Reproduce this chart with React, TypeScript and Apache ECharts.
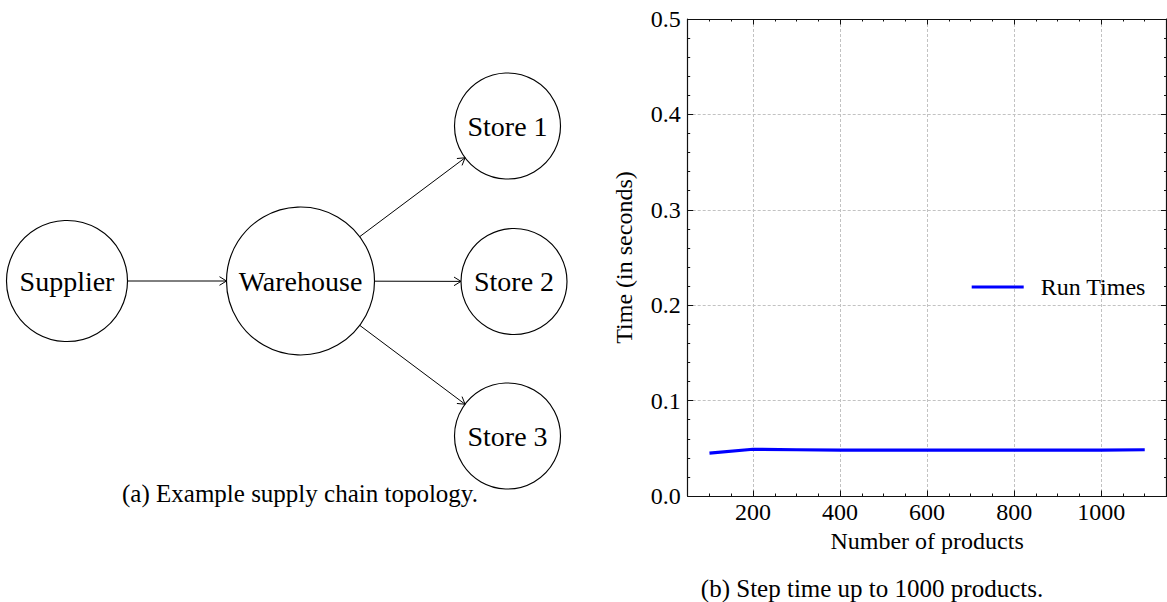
import React, { useEffect, useRef } from "react";
import * as echarts from "echarts";

// ---- chart data ----
const productCounts = [100, 200, 300, 400, 500, 600, 700, 800, 900, 1000, 1100];
const runTimes = [0.045, 0.049, 0.0485, 0.048, 0.048, 0.048, 0.048, 0.048, 0.048, 0.048, 0.0485];
const seriesName = "Run Times";
const xAxisTitle = "Number of products";
const yAxisTitle = "Time (in seconds)";
const captionA = "(a) Example supply chain topology.";
const captionB = "(b) Step time up to 1000 products.";

// ---- diagram content ----
const nodeLabels = ["Supplier", "Warehouse", "Store 1", "Store 2", "Store 3"];
const edgeList: [number, number][] = [
  [0, 1],
  [1, 2],
  [1, 3],
  [1, 4],
];

// ---- diagram layout (positions / sizes) ----
const nodeLayout = [
  { cx: 67, cy: 281, r: 60.5 },
  { cx: 300.5, cy: 281, r: 74 },
  { cx: 507.5, cy: 126, r: 53 },
  { cx: 514, cy: 281.5, r: 53 },
  { cx: 507.5, cy: 436, r: 53 },
];

const FONT = "Liberation Serif";

function textStyle(text: string, size: number) {
  return {
    text,
    fontSize: size,
    fontFamily: FONT,
    fill: "#000",
    align: "center",
    verticalAlign: "middle",
    textAlign: "center",
    textVerticalAlign: "middle",
  };
}

function buildDiagram(): any[] {
  const els: any[] = [];
  nodeLabels.forEach((label, i) => {
    const n = nodeLayout[i];
    els.push({
      type: "circle",
      shape: { cx: n.cx, cy: n.cy, r: n.r },
      style: { fill: "none", stroke: "#000", lineWidth: 1.15 },
    });
    els.push({ type: "text", x: n.cx, y: n.cy, style: textStyle(label, 28) });
  });
  edgeList.forEach(([a, b]) => {
    const p = nodeLayout[a];
    const q = nodeLayout[b];
    const dx = q.cx - p.cx;
    const dy = q.cy - p.cy;
    const len = Math.sqrt(dx * dx + dy * dy);
    const ux = dx / len;
    const uy = dy / len;
    const x1 = p.cx + ux * p.r;
    const y1 = p.cy + uy * p.r;
    const x2 = q.cx - ux * q.r;
    const y2 = q.cy - uy * q.r;
    els.push({
      type: "line",
      shape: { x1, y1, x2, y2 },
      style: { stroke: "#000", lineWidth: 1 },
    });
    const L = 7;
    const W = 4.3;
    const nx = -uy;
    const ny = ux;
    els.push({
      type: "polyline",
      shape: {
        points: [
          [x2 - ux * L + nx * W, y2 - uy * L + ny * W],
          [x2, y2],
          [x2 - ux * L - nx * W, y2 - uy * L - ny * W],
        ],
      },
      style: { stroke: "#000", lineWidth: 1, fill: "none" },
    });
  });
  els.push({ type: "text", x: 300, y: 493, style: textStyle(captionA, 25) });
  els.push({ type: "text", x: 872, y: 588, style: textStyle(captionB, 25) });
  return els;
}

export default function App() {
  const ref = useRef<HTMLDivElement>(null);
  useEffect(() => {
    if (!ref.current) return;
    const chart = echarts.init(ref.current, null, { renderer: "svg" });
    const axisLineStyle = { color: "#111", width: 1.2 };
    const tickStyle = { color: "#111", width: 1 };
    const labelStyle = { color: "#000", fontSize: 24, fontFamily: FONT };
    const gridLine = { color: "#c2c2c2", type: [3, 2], width: 1 };

    const mkX = (pos: string, main: boolean) => ({
      type: "value",
      gridIndex: 0,
      position: pos,
      min: 50,
      max: 1150,
      splitNumber: 5,
      axisLine: { show: true, onZero: false, lineStyle: axisLineStyle },
      axisTick: { show: true, inside: true, length: 5.5, lineStyle: tickStyle },
      minorTick: { show: true, splitNumber: 4, length: 2.5, lineStyle: tickStyle },
      splitLine: main
        ? { show: true, showMinLine: false, showMaxLine: false, lineStyle: gridLine }
        : { show: false },
      minorSplitLine: { show: false },
      axisLabel: main
        ? {
            show: true,
            margin: 4,
            showMinLabel: false,
            showMaxLabel: false,
            formatter: (v: number) => String(Math.round(v)),
            ...labelStyle,
          }
        : { show: false },
      name: main ? xAxisTitle : "",
      nameLocation: "middle",
      nameGap: 32,
      nameTextStyle: labelStyle,
    });
    const mkY = (pos: string, main: boolean) => ({
      type: "value",
      gridIndex: 0,
      position: pos,
      min: 0,
      max: 0.5,
      interval: 0.1,
      axisLine: { show: true, onZero: false, lineStyle: axisLineStyle },
      axisTick: { show: true, inside: true, length: 5.5, lineStyle: tickStyle },
      minorTick: { show: true, splitNumber: 5, length: 2.5, lineStyle: tickStyle },
      splitLine: main
        ? { show: true, showMinLine: false, showMaxLine: false, lineStyle: gridLine }
        : { show: false },
      minorSplitLine: { show: false },
      axisLabel: main
        ? { show: true, margin: 7, formatter: (v: number) => v.toFixed(1), ...labelStyle }
        : { show: false },
      name: main ? yAxisTitle : "",
      nameLocation: "middle",
      nameRotate: 90,
      nameGap: 52,
      nameTextStyle: labelStyle,
    });

    chart.setOption({
      animation: false,
      backgroundColor: "#fff",
      textStyle: { fontFamily: FONT },
      grid: {
        left: 687.7,
        top: 19,
        right: 0.5,
        bottom: 106,
        containLabel: false,
        outerBoundsMode: "none",
      },
      xAxis: [mkX("bottom", true), mkX("top", false)],
      yAxis: [mkY("left", true), mkY("right", false)],
      legend: {
        show: true,
        data: [seriesName],
        left: 971.7,
        top: 275,
        padding: 0,
        icon: "rect",
        itemWidth: 52,
        itemHeight: 3,
        selectedMode: false,
        textStyle: { ...labelStyle, padding: [0, 0, 0, 12] },
      },
      series: [
        {
          name: seriesName,
          type: "line",
          xAxisIndex: 0,
          yAxisIndex: 0,
          data: productCounts.map((x, i) => [x, runTimes[i]]),
          symbol: "none",
          showSymbol: false,
          color: "#0000ff",
          lineStyle: { color: "#0000ff", width: 3.2 },
          itemStyle: { color: "#0000ff" },
        },
      ],
      graphic: buildDiagram(),
    });
    return () => {
      chart.dispose();
    };
  }, []);
  return (
    <div
      ref={ref}
      style={{ position: "fixed", left: 0, top: 0, width: 1167, height: 602, background: "#fff" }}
    />
  );
}
